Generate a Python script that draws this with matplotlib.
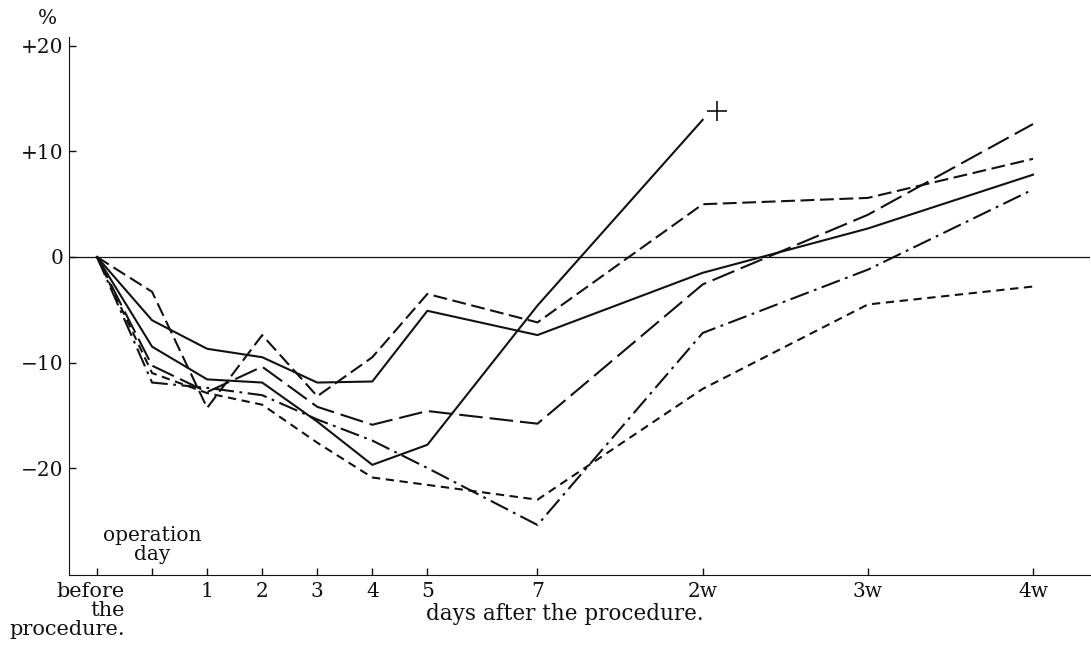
import matplotlib.pyplot as plt

plt.rcParams['font.family'] = ['DejaVu Serif']
plt.rcParams['lines.scale_dashes'] = False

# x positions: before, operation day, days 1-5, 7, then weeks 2-4
x_pos = [-1, 0, 1, 2, 3, 4, 5, 7, 10, 13, 16]
x_labels = ['', '', '1', '2', '3', '4', '5', '7', '2w', '3w', '4w']

# change in % from the value before the procedure
solid_a = [0, -6.0, -8.7, -9.5, -11.9, -11.8, -5.1, -7.4, -1.5, 2.7, 7.8]
solid_b = [0, -8.5, -11.6, -11.9, -15.6, -19.7, -17.8, -4.6, 13.0]   # died after 2w
mid_dash = [0, -3.3, -14.3, -7.4, -13.2, -9.5, -3.5, -6.2, 5.0, 5.6, 9.3]
long_dash = [0, -10.3, -12.8, -10.4, -14.2, -15.9, -14.6, -15.8, -2.6, 4.0, 12.6]
dash_dot = [0, -11.9, -12.4, -13.1, -15.4, -17.4, -20.0, -25.4, -7.2, -1.2, 6.4]
short_dash = [0, -11.0, -12.9, -14.0, -17.6, -20.9, -21.6, -23.0, -12.5, -4.5, -2.8]

died_x, died_y = 10.26, 13.8

y_ticks = [20, 10, 0, -10, -20]
y_labels = ['+20', '+10', '0', '\u221210', '\u221220']

fig = plt.figure(figsize=(10.91, 6.57), dpi=100)
ax = fig.add_axes([69 / 1091, 82 / 657, 1021 / 1091, 538 / 657])

col = '#111111'
lw = 1.5
ax.axhline(0, color=col, lw=0.9)
ax.plot(x_pos, solid_a, color=col, lw=lw, ls='-')
ax.plot(x_pos[:len(solid_b)], solid_b, color=col, lw=lw, ls='-')
ax.plot(x_pos, mid_dash, color=col, lw=lw, ls=(0, (10, 4)))
ax.plot(x_pos, long_dash, color=col, lw=lw, ls=(0, (17, 5)))
ax.plot(x_pos, dash_dot, color=col, lw=lw, ls=(0, (14, 4, 2, 4)))
ax.plot(x_pos, short_dash, color=col, lw=lw, ls=(0, (6, 4)))
ax.plot([died_x], [died_y], marker='+', color=col, markersize=15, mew=1.2)

ax.set_xlim(-1.509, 17.035)
ax.set_ylim(-30.14, 20.85)

ax.spines['top'].set_visible(False)
ax.spines['right'].set_visible(False)
ax.spines['left'].set_color(col)
ax.spines['bottom'].set_color(col)

ax.set_xticks(x_pos)
ax.set_xticklabels(x_labels)
ax.set_yticks(y_ticks)
ax.set_yticklabels(y_labels)
ax.tick_params(direction='in', length=5, width=1, colors=col, labelsize=14.5)
ax.tick_params(axis='x', pad=5)
ax.tick_params(axis='y', pad=4)

# label under the first tick, right aligned
ax.annotate('before\nthe\nprocedure.', xy=(-1, 0), xycoords=('data', 'axes fraction'),
            xytext=(28, -7), textcoords='offset pixels', ha='right', va='top',
            multialignment='right', fontsize=15, linespacing=1.0, color=col)
ax.annotate('days after the procedure.', xy=(7.5, 0), xycoords=('data', 'axes fraction'),
            xytext=(0, -28), textcoords='offset pixels', ha='center', va='top',
            fontsize=15.5, color=col)
ax.text(0, -27.3, 'operation\nday', ha='center', va='center', fontsize=14.5,
        linespacing=1.05, color=col)
fig.text(47 / 1091, 1 - 19 / 657, '%', ha='center', va='center', fontsize=14.5, color=col)

fig.savefig('out.png', dpi=100)
